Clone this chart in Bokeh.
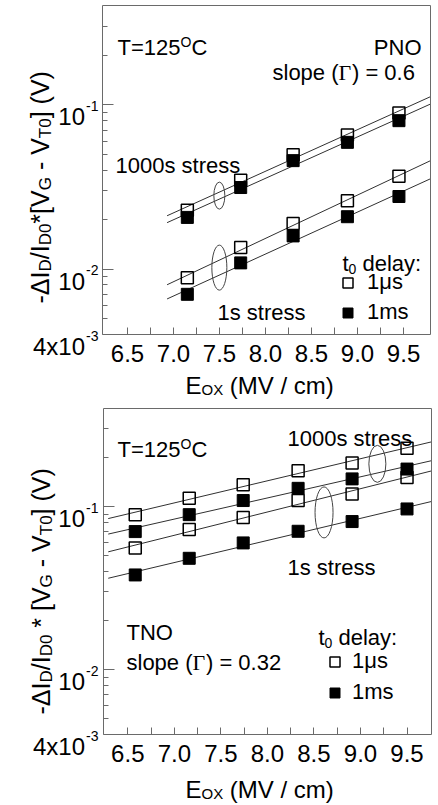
import math
import numpy as np
from bokeh.plotting import figure
from bokeh.layouts import column
from bokeh.models import (Range1d, Label, FixedTicker, PrintfTickFormatter,
                          CustomJSTickFormatter, Legend, LegendItem, LinearAxis)
from bokeh.embed import file_html
from bokeh.resources import INLINE

# ---------------- data ----------------
pno_x = [7.15, 7.73, 8.30, 8.89, 9.45]
pno_1000s_1us = [0.0228, 0.0347, 0.0495, 0.0653, 0.0889]
pno_1000s_1ms = [0.0206, 0.0313, 0.0456, 0.0589, 0.0798]
pno_1s_1us = [0.00885, 0.0135, 0.0189, 0.0260, 0.0366]
pno_1s_1ms = [0.00702, 0.0109, 0.0159, 0.0208, 0.0276]

tno_x = [6.58, 7.16, 7.74, 8.33, 8.91, 9.50]
tno_1000s_1us = [0.0893, 0.1125, 0.136, 0.166, 0.185, 0.228]
tno_1000s_1ms = [0.0703, 0.0893, 0.109, 0.1295, 0.148, 0.170]
tno_1s_1us = [0.0558, 0.0723, 0.0859, 0.109, 0.1197, 0.151]
tno_1s_1ms = [0.0381, 0.0482, 0.0599, 0.0706, 0.081, 0.0968]

x_ticks = [6.5, 7.0, 7.5, 8.0, 8.5, 9.0, 9.5]
x_minor = [6.75, 7.25, 7.75, 8.25, 8.75, 9.25]
y_span = (0.004, 0.4)
y_ticks = [0.004, 0.01, 0.1]
y_tick_base = ["4x10", "10", "10"]
y_tick_exp = ["-3", "-2", "-1"]
y_minor = [k * 10.0 ** e for e in (-3, -2, -1) for k in range(2, 10)
           if y_span[0] < k * 10.0 ** e < y_span[1]]
legend_labels = ["1\u03bcs", "1ms"]

FONT = "Liberation Sans"
SERIF = "Liberation Serif"
AX = "#6a6a6a"
LINE = "#303030"
CW = 438

# Arial-metric advance widths (per 1000 em)
W = {' ': 278, '-': 333, '\u0394': 668, 'I': 278, 'D': 722, '/': 278, '*': 389,
     '[': 278, ']': 278, 'V': 667, 'G': 778, 'T': 611, '(': 333, ')': 333,
     'E': 667, 'O': 778, 'X': 667, 'M': 833, 'c': 500, 'm': 833, 's': 500,
     'l': 222, 'o': 556, 'p': 556, 'e': 556, '=': 584, '.': 278, 't': 278,
     'd': 556, 'a': 556, 'y': 500, ':': 278, 'r': 333, 'N': 722, 'C': 722,
     'x': 500, '\u0393': 611}


def tw(s, size):
    return sum(W.get(ch, 556) for ch in s) / 1000.0 * size


def make_fig(h, box, xspan):
    """Frame = whole canvas; the plot box is drawn with fixed-location axes."""
    L, T, R, B = box
    x0, x1 = xspan
    sx = (x1 - x0) / (R - L)
    ly0, ly1 = math.log10(y_span[0]), math.log10(y_span[1])
    sy = (ly1 - ly0) / (B - T)
    xr = Range1d(x0 - L * sx, x1 + (CW - R) * sx)
    yr = Range1d(10 ** (ly0 - (h - B) * sy), 10 ** (ly1 + T * sy))
    p = figure(width=CW, height=h, x_range=xr, y_range=yr, y_axis_type="log",
               output_backend="svg", toolbar_location=None, min_border=0,
               min_border_left=0, min_border_right=0, min_border_top=0,
               min_border_bottom=0)
    p.title.visible = False
    p.grid.visible = False
    p.outline_line_color = None
    p.background_fill_color = "white"
    p.border_fill_color = "white"

    xa = p.xaxis[0]
    xa.fixed_location = y_span[0]
    xa.bounds = (x0, x1)
    xa.ticker = FixedTicker(ticks=x_ticks, minor_ticks=x_minor)
    xa.formatter = PrintfTickFormatter(format="%.1f")
    xa.major_tick_in = 7
    xa.major_tick_out = 0
    xa.minor_tick_in = 7
    xa.minor_tick_out = 0
    xa.major_label_text_font = FONT
    xa.major_label_text_font_size = "24px"
    xa.major_label_text_color = "black"
    xa.major_label_standoff = 10

    ya = p.yaxis[0]
    ya.fixed_location = x0
    ya.bounds = y_span
    ya.ticker = FixedTicker(ticks=y_ticks, minor_ticks=y_minor)
    ya.formatter = CustomJSTickFormatter(code="return ''")
    ya.major_tick_in = 11
    ya.major_tick_out = 0
    ya.minor_tick_in = 5
    ya.minor_tick_out = 0

    top = LinearAxis(fixed_location=y_span[1], bounds=(x0, x1),
                     ticker=FixedTicker(ticks=[]), formatter=CustomJSTickFormatter(code="return ''"))
    right = LinearAxis(fixed_location=x1, bounds=y_span,
                       ticker=FixedTicker(ticks=[]), formatter=CustomJSTickFormatter(code="return ''"))
    p.add_layout(top, "above")
    p.add_layout(right, "right")
    for a in (xa, ya, top, right):
        a.axis_line_color = AX
        a.axis_line_width = 1
        a.major_tick_line_color = AX
        a.minor_tick_line_color = AX
    return p


def place(p, x, y, dx, dy, text, size, align="left", angle=0.0, font=FONT):
    p.add_layout(Label(x=x, y=y, x_offset=dx, y_offset=-dy, text=text,
                       text_font=font, text_font_size=f"{size}px",
                       text_align=align, text_baseline="alphabetic",
                       angle=angle, text_color="black"))


def place_px(p, px, py, text, size, **kw):
    # canvas pixel position (frame covers the whole canvas)
    place(p, p.x_range.start, p.y_range.end, px, py, text, size, **kw)


def run_h(p, px, py, segs):
    for seg in segs:
        text, size, shift = seg[:3]
        font = seg[3] if len(seg) > 3 else FONT
        stripped = text.lstrip(' ')
        px += tw(text[:len(text) - len(stripped)], size)
        place_px(p, px, py + shift, stripped, size, font=font)
        px += tw(stripped, size)


def run_v(p, px, py, segs):
    for text, size, shift in segs:
        stripped = text.lstrip(' ')
        py -= tw(text[:len(text) - len(stripped)], size)
        place_px(p, px + shift, py, stripped, size, angle=math.pi / 2)
        py -= tw(stripped, size)


def fit(xs, ys):
    k, b = np.polyfit(xs, np.log10(ys), 1)
    return k, b


def panel(p, box, xspan, xs, series, x_lo, ellipses, legend_loc, legend_gap, standoff):
    opens, fills, fits = [], [], []
    x_hi = xspan[1]
    for ys, filled in series:
        k, b = fit(xs, ys)
        fits.append((k, b))
        p.line([x_lo, x_hi], [10 ** (b + k * x_lo), 10 ** (b + k * x_hi)],
               line_color=LINE, line_width=1)
    for ys, filled in series:
        if filled:
            r = p.scatter(xs, ys, marker="square", size=12, fill_color="black",
                          line_color="black", line_width=1)
            fills.append(r)
        else:
            r = p.scatter(xs, ys, marker="square", size=12, fill_alpha=0,
                          line_color="black", line_width=1.5)
            opens.append(r)
    for (i_a, i_b, seg, frac, w, h) in ellipses:
        cx = xs[seg] + frac * (xs[seg + 1] - xs[seg])
        la = fits[i_a][1] + fits[i_a][0] * cx
        lb = fits[i_b][1] + fits[i_b][0] * cx
        cy = 10 ** ((la + lb) / 2)
        p.ellipse([cx], [cy], width=w, height=h, width_units="screen",
                  height_units="screen", fill_alpha=0, line_color="#444444",
                  line_width=1)
    leg = Legend(items=[LegendItem(label=legend_labels[0], renderers=[opens[0]]),
                        LegendItem(label=legend_labels[1], renderers=[fills[0]])],
                 location=legend_loc, glyph_width=25, glyph_height=25,
                 spacing=legend_gap, padding=0, margin=0, label_standoff=standoff,
                 label_text_font=FONT, label_text_font_size="22px",
                 label_text_color="black",
                 border_line_color=None, background_fill_alpha=0)
    p.add_layout(leg)
    # y tick labels with raised exponents
    L = box[0]
    for v, base, ex in zip(y_ticks, y_tick_base, y_tick_exp):
        place(p, xspan[0], v, 84.5 - L, 12, base, 24, align="right")
        place(p, xspan[0], v, 85.5 - L, 1, ex, 14)


YT_TOP = [("-\u0394I", 25, 0), ("D", 17, 6), ("/I", 25, 0), ("D0", 17, 6),
          ("*[V", 25, 0), ("G", 17, 6), (" - V", 25, 0), ("T0", 17, 6), ("] (V)", 25, 0)]
YT_BOT = [("-\u0394I", 25, 0), ("D", 17, 6), ("/I", 25, 0), ("D0", 17, 6),
          (" * [V", 25, 0), ("G", 17, 6), (" - V", 25, 0), ("T0", 17, 6), ("] (V)", 25, 0)]
XT = [("E", 24, 0), ("OX", 15, 4), (" (MV / cm)", 24, 0)]

# ---------------- top panel (PNO) ----------------
B1 = (102, 5, 430, 334)
X1 = (6.228, 9.793)
p1 = make_fig(400, B1, X1)
panel(p1, B1, X1, pno_x,
      [(pno_1000s_1us, False), (pno_1000s_1ms, True), (pno_1s_1us, False), (pno_1s_1ms, True)],
      6.93, [(0, 1, 0, 0.6, 11, 27), (2, 3, 0, 0.6, 15, 45)],
      (335, 75), 4, 7)
run_h(p1, 117, 47, [("T=125", 22, 0), ("O", 14, -6), ("C", 22, 0)])
place_px(p1, 421, 47, "PNO", 22, align="right")
run_h(p1, 272, 72, [("slope (", 22, 0), ("\u0393", 22, 0, SERIF), (") = 0.6", 22, 0)])
place_px(p1, 115, 165, "1000s stress", 22)
place_px(p1, 217, 312, "1s stress", 22)
run_h(p1, 342, 263, [("t", 22, 0), ("0", 14, 5), (" delay:", 22, 0)])
run_h(p1, 185, 385, XT)
run_v(p1, 39, 303, YT_TOP)

# ---------------- bottom panel (TNO) ----------------
B2 = (103, 8, 431, 334)
X2 = (6.239, 9.763)
p2 = make_fig(405, B2, X2)
panel(p2, B2, X2, tno_x,
      [(tno_1000s_1us, False), (tno_1000s_1ms, True), (tno_1s_1us, False), (tno_1s_1ms, True)],
      6.29, [(0, 1, 4, 0.46, 17, 37), (2, 3, 3, 0.48, 18, 51)],
      (322, 100), 5, 5)
place_px(p2, 287, 38, "1000s stress", 22)
run_h(p2, 117, 49, [("T=125", 22, 0), ("O", 14, -6), ("C", 22, 0)])
place_px(p2, 287, 167, "1s stress", 22)
place_px(p2, 126, 232, "TNO", 22)
run_h(p2, 126, 262, [("slope (", 22, 0), ("\u0393", 22, 0, SERIF), (") = 0.32", 22, 0)])
run_h(p2, 318, 237, [("t", 22, 0), ("0", 14, 5), (" delay:", 22, 0)])
run_h(p2, 185, 389, XT)
run_v(p2, 40, 314, YT_BOT)

layout = column(p1, p2, spacing=0)
open("out.html", "w").write(file_html(layout, INLINE))
